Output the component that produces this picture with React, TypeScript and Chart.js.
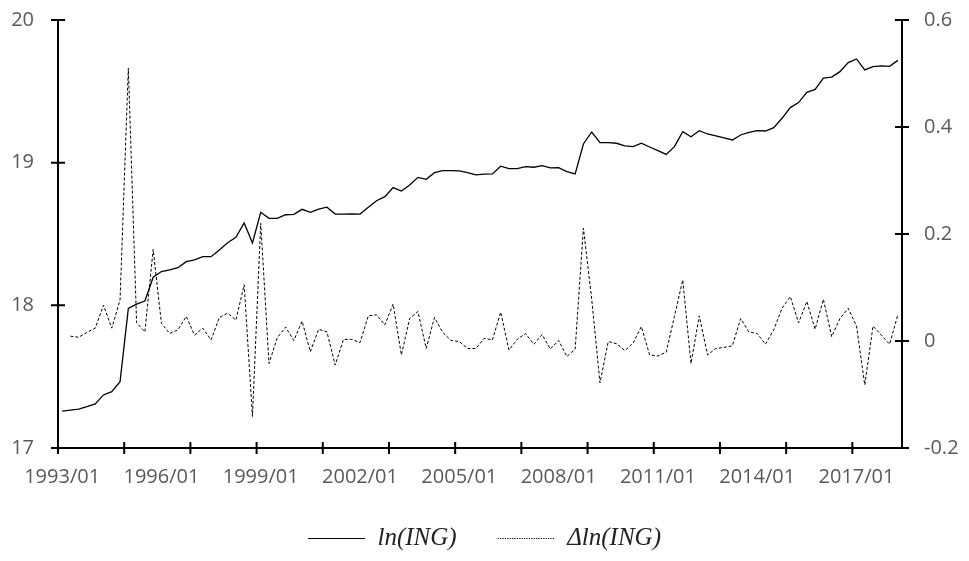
import React, { useEffect, useRef } from "react";
import { Chart, registerables } from "chart.js";

Chart.register(...registerables);

// Quarterly categories 1993/01 .. 2018/04 (102 quarters)
const startYear = 1993;
const quarterCount = 102;
const quarterMonths = ["01", "04", "07", "10"];
const categories: string[] = [];
for (let i = 0; i < quarterCount; i++) {
  categories.push(`${startYear + Math.floor(i / 4)}/${quarterMonths[i % 4]}`);
}

const lnING: number[] = [
  17.259, 17.266, 17.273, 17.29, 17.309, 17.372, 17.395, 17.465, 17.979, 18.009,
  18.03, 18.197, 18.237, 18.248, 18.264, 18.306, 18.318, 18.341, 18.341, 18.388,
  18.439, 18.477, 18.577, 18.437, 18.652, 18.61, 18.61, 18.635, 18.638, 18.673,
  18.652, 18.675, 18.688, 18.64, 18.64, 18.641, 18.64, 18.687, 18.733, 18.762,
  18.825, 18.801, 18.843, 18.897, 18.883, 18.93, 18.944, 18.944, 18.942, 18.93,
  18.914, 18.919, 18.921, 18.975, 18.958, 18.958, 18.972, 18.968, 18.979, 18.963,
  18.965, 18.937, 18.921, 19.131, 19.215, 19.141, 19.14, 19.136, 19.118, 19.112,
  19.136, 19.11, 19.084, 19.058, 19.112, 19.217, 19.182, 19.224, 19.201, 19.187,
  19.173, 19.159, 19.194, 19.213, 19.224, 19.222, 19.245, 19.311, 19.386, 19.421,
  19.493, 19.514, 19.593, 19.6, 19.638, 19.701, 19.727, 19.65, 19.673, 19.678,
  19.675, 19.717,
];

const dlnING: (number | null)[] = [
  null, 0.009, 0.007, 0.016, 0.024, 0.067, 0.024, 0.077, 0.51, 0.034,
  0.017, 0.171, 0.033, 0.014, 0.021, 0.046, 0.011, 0.024, 0.002, 0.044,
  0.052, 0.039, 0.105, -0.141, 0.22, -0.042, 0.006, 0.026, 0.001, 0.037,
  -0.02, 0.022, 0.017, -0.045, 0.003, 0.003, -0.003, 0.047, 0.049, 0.03,
  0.069, -0.026, 0.042, 0.055, -0.014, 0.044, 0.016, 0.001, -0.001, -0.014,
  -0.014, 0.005, 0.002, 0.054, -0.017, 0.003, 0.014, -0.006, 0.012, -0.015,
  0.001, -0.029, -0.015, 0.211, 0.078, -0.078, -0.001, -0.005, -0.018, -0.004,
  0.027, -0.026, -0.028, -0.021, 0.046, 0.114, -0.042, 0.047, -0.026, -0.014,
  -0.012, -0.009, 0.042, 0.017, 0.014, -0.006, 0.021, 0.061, 0.083, 0.034,
  0.074, 0.022, 0.078, 0.008, 0.042, 0.061, 0.028, -0.082, 0.028, 0.011,
  -0.006, 0.049,
];

const seriesNames = ["ln(ING)", "\u0394ln(ING)"];
const leftTicks = { min: 17, max: 20, step: 1 };
const rightTicks = { min: -0.2, max: 0.6, step: 0.2 };
const labelEvery = 12;
const markEvery = 8;

const axesPlugin = {
  id: "axesMarks",
  afterDraw(chart: any) {
    const { ctx, chartArea, scales } = chart;
    const { left, right, top, bottom } = chartArea;
    ctx.save();
    ctx.strokeStyle = "#000";
    ctx.lineWidth = 2;
    ctx.lineCap = "butt";
    ctx.beginPath();
    ctx.moveTo(left, top - 1);
    ctx.lineTo(left, bottom + 1);
    ctx.moveTo(right, top - 1);
    ctx.lineTo(right, bottom + 1);
    ctx.moveTo(left - 1, bottom);
    ctx.lineTo(right + 1, bottom);
    scales.y.ticks.forEach((t: any) => {
      const py = scales.y.getPixelForValue(t.value);
      ctx.moveTo(left - 7, py);
      ctx.lineTo(left + 7, py);
    });
    scales.y1.ticks.forEach((t: any) => {
      const py = scales.y1.getPixelForValue(t.value);
      ctx.moveTo(right - 7, py);
      ctx.lineTo(right + 7, py);
    });
    for (let i = 0; i < categories.length; i += markEvery) {
      const px = scales.x.getPixelForValue(i - 0.5);
      ctx.moveTo(px, bottom - 6);
      ctx.lineTo(px, bottom + 6);
    }
    ctx.stroke();
    ctx.restore();
  },
};

export default function App() {
  const canvasRef = useRef<HTMLCanvasElement | null>(null);

  useEffect(() => {
    if (!canvasRef.current) return;
    Chart.defaults.font.family = "'Open Sans', sans-serif";
    const chart = new Chart(canvasRef.current, {
      type: "line",
      data: {
        labels: categories,
        datasets: [
          {
            label: seriesNames[0],
            data: lnING,
            yAxisID: "y",
            borderColor: "#000",
            borderWidth: 1.3,
            pointRadius: 0,
            tension: 0,
            fill: false,
          },
          {
            label: seriesNames[1],
            data: dlnING,
            yAxisID: "y1",
            borderColor: "#000",
            borderWidth: 1,
            borderDash: [3, 2],
            pointRadius: 0,
            tension: 0,
            fill: false,
            spanGaps: false,
          },
        ],
      },
      options: {
        animation: false,
        responsive: true,
        maintainAspectRatio: false,
        layout: { padding: { top: 20, left: 0, right: 0, bottom: 0 } },
        plugins: {
          tooltip: { enabled: false },
          legend: {
            position: "bottom",
            labels: {
              usePointStyle: true,
              pointStyleWidth: 57,
              padding: 41,
              color: "#222",
              font: { family: "'Liberation Serif', serif", style: "italic", size: 25 },
              generateLabels: (c: any) =>
                c.data.datasets.map((ds: any, i: number) => ({
                  text: ds.label,
                  fillStyle: "rgba(0,0,0,0)",
                  strokeStyle: "#000",
                  lineWidth: 1.2,
                  lineDash: i === 0 ? [] : [1.2, 1.2],
                  pointStyle: "line",
                  hidden: false,
                  datasetIndex: i,
                  fontColor: "#222",
                })),
            },
          },
        },
        scales: {
          x: {
            type: "category",
            offset: true,
            grid: { display: false, drawTicks: false, offset: true },
            border: { display: false },
            afterFit: (s: any) => {
              s.height = 37;
            },
            ticks: {
              autoSkip: false,
              maxRotation: 0,
              minRotation: 0,
              padding: 17,
              color: "#595959",
              font: { size: 20 },
              callback: (_v: any, idx: number) => (idx % labelEvery === 0 ? categories[idx] : ""),
            },
          },
          y: {
            type: "linear",
            position: "left",
            min: leftTicks.min,
            max: leftTicks.max,
            grid: { display: false, drawTicks: false },
            border: { display: false },
            afterFit: (s: any) => {
              s.width = 58;
              s.paddingTop = 0;
              s.paddingBottom = 0;
            },
            ticks: {
              stepSize: leftTicks.step,
              padding: 24,
              color: "#595959",
              font: { size: 20 },
              callback: (v: any) => String(Math.round(Number(v))),
            },
          },
          y1: {
            type: "linear",
            position: "right",
            min: rightTicks.min,
            max: rightTicks.max,
            grid: { display: false, drawTicks: false },
            border: { display: false },
            afterFit: (s: any) => {
              s.width = 67;
              s.paddingTop = 0;
              s.paddingBottom = 0;
            },
            ticks: {
              stepSize: rightTicks.step,
              padding: 22,
              color: "#595959",
              font: { size: 20 },
              callback: (v: any) => String(Number(Number(v).toFixed(1))),
            },
          },
        },
      },
      plugins: [axesPlugin],
    });
    return () => chart.destroy();
  }, []);

  return (
    <div style={{ position: "fixed", left: 0, top: 0, width: 969, height: 561, background: "#fff" }}>
      <canvas ref={canvasRef} />
    </div>
  );
}
